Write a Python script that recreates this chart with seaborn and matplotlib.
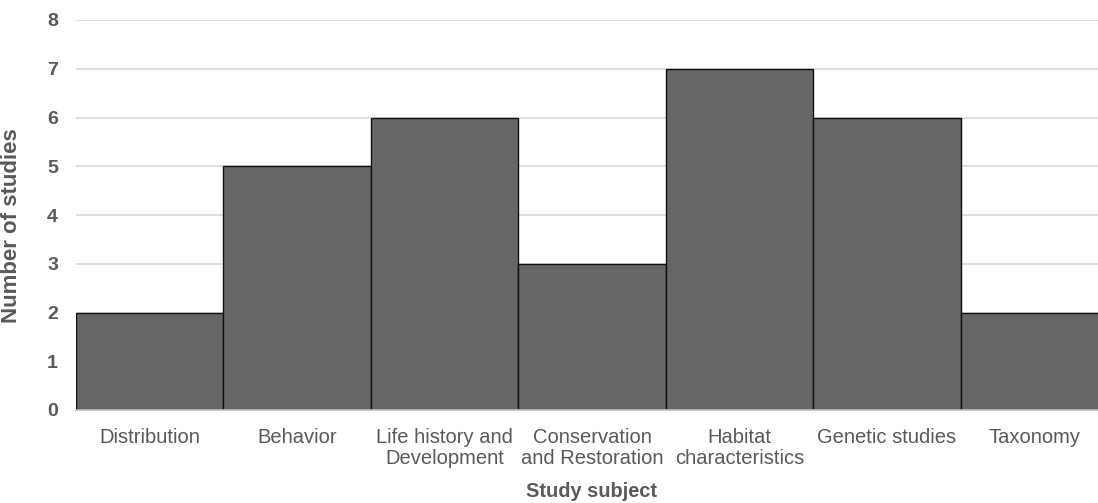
import matplotlib
matplotlib.use("Agg")
import matplotlib.pyplot as plt
import seaborn as sns
import pandas as pd

categories = ["Distribution", "Behavior", "Life history and\nDevelopment",
              "Conservation\nand Restoration", "Habitat\ncharacteristics",
              "Genetic studies", "Taxonomy"]
counts = [2, 5, 6, 3, 7, 6, 2]
y_ticks = [0, 1, 2, 3, 4, 5, 6, 7, 8]

sns.set_theme(style="white")
plt.rcParams["font.family"] = ["Liberation Sans", "DejaVu Sans"]

text_color = "#595959"
df = pd.DataFrame({"subject": categories, "studies": counts})

fig = plt.figure(figsize=(10.98, 5.03), dpi=100)
ax = fig.add_axes([76 / 1098, 1 - 410 / 503, 1032 / 1098, 390 / 503])

sns.barplot(data=df, x="subject", y="studies", color="#666666", width=1.0,
            edgecolor="#111111", linewidth=1.0, saturation=1, ax=ax, zorder=3)

ax.set_ylim(0, 8)
ax.set_xlim(-0.5, len(categories) - 0.5)
ax.set_yticks(y_ticks)
ax.yaxis.grid(True, color="#d9d9d9", linewidth=1.2, zorder=0)
ax.set_axisbelow(True)
for side in ["top", "right", "left"]:
    ax.spines[side].set_visible(False)
ax.spines["bottom"].set_color("#bfbfbf")
ax.spines["bottom"].set_linewidth(1.2)
ax.spines["bottom"].set_zorder(4)

ax.tick_params(axis="both", length=0)
ax.tick_params(axis="y", pad=13)
ax.tick_params(axis="x", pad=13)
for lbl in ax.get_yticklabels():
    lbl.set_fontsize(14)
    lbl.set_fontweight("bold")
    lbl.set_color(text_color)
for lbl in ax.get_xticklabels():
    lbl.set_fontsize(14.5)
    lbl.set_color(text_color)
    lbl.set_linespacing(1.12)

ax.set_xlabel("Study subject", fontsize=14.4, fontweight="bold", color=text_color)
ax.set_ylabel("Number of studies", fontsize=16, fontweight="bold", color=text_color)
ax.xaxis.set_label_coords(0.5, -(482 - 410) / 390)
ax.yaxis.set_label_coords(-(76 - 12) / 1032, (410 - 226) / 390)
ax.yaxis.label.set_va("center")

fig.savefig("out.png", dpi=100)
